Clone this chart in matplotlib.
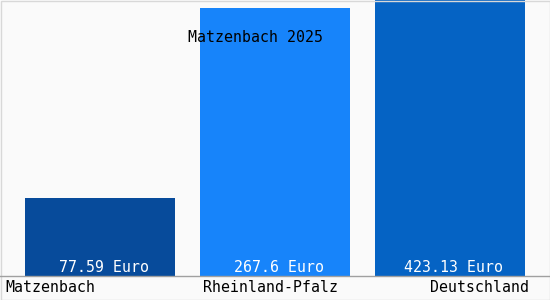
import matplotlib
matplotlib.use("Agg")
import matplotlib.pyplot as plt
from matplotlib.patches import Rectangle

categories = ["Matzenbach", "Rheinland-Pfalz", "Deutschland"]
values = [77.59, 267.6, 423.13]
value_labels = ["77.59 Euro", "267.6 Euro", "423.13 Euro"]
colors = ["#074b9b", "#1784fa", "#0563c4"]
title = "Matzenbach 2025"

W, H = 550, 300
fig = plt.figure(figsize=(W / 100, H / 100), dpi=100)
fig.patch.set_facecolor("#fafafa")

base_px = 276
ax = fig.add_axes([0, 1 - base_px / H, 1, base_px / H])
ax.set_facecolor("#fafafa")
x = list(range(len(categories)))
ax.bar(x, values, width=150 / 175, color=colors, align="center")
ax.set_xlim(-100 / 175, 450 / 175)
ax.set_ylim(0, base_px)
ax.axis("off")

mono = "DejaVu Sans Mono"
fs = 10.7
for i, lab in enumerate(value_labels):
    ax.text(i + 4 / 175, 8.5, lab, color="white", ha="center", va="center",
            fontsize=fs, family=mono)

# baseline
fig.add_artist(plt.Line2D([0, 1], [1 - base_px / H] * 2, color="#a0a0a0", lw=1))
# figure border
fig.add_artist(Rectangle((0.5 / W, 0.5 / H), 1 - 1 / W, 1 - 1 / H,
                         fill=False, edgecolor="#d8d8d8", lw=1,
                         transform=fig.transFigure))

label_y = 1 - 288 / H
fig.text(5 / W, label_y, categories[0], ha="left", va="center", fontsize=fs, family=mono)
fig.text(271 / W, label_y, categories[1], ha="center", va="center", fontsize=fs, family=mono)
fig.text(529 / W, label_y, categories[2], ha="right", va="center", fontsize=fs, family=mono)

fig.text(256 / W, 1 - 38 / H, title, ha="center", va="center", fontsize=fs, family=mono,
         color="black")

fig.savefig("out.png", dpi=100, facecolor=fig.get_facecolor())
